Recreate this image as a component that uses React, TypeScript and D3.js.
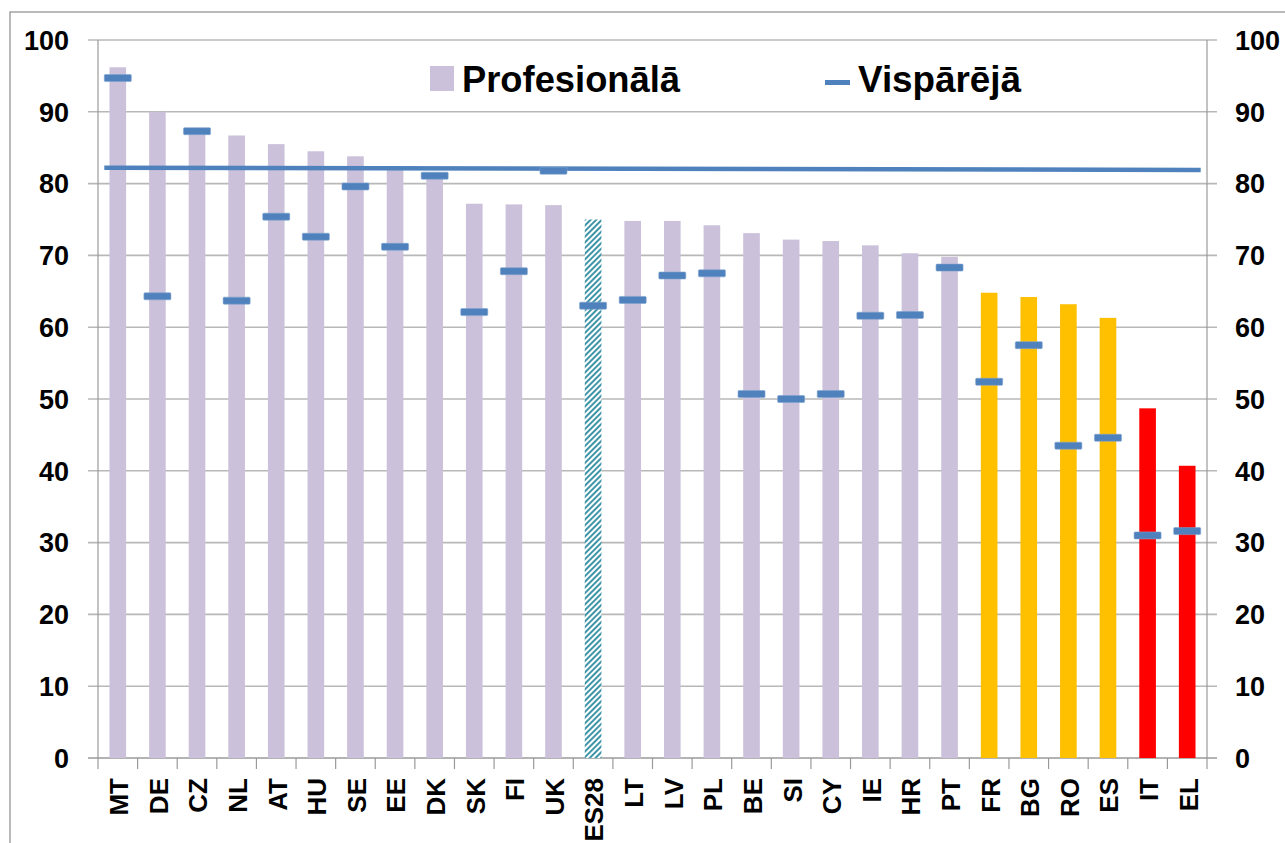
import React, { useEffect, useRef } from 'react';
import * as d3 from 'd3';

// country codes, sorted by the vocational share
const countries = [
  'MT', 'DE', 'CZ', 'NL', 'AT', 'HU', 'SE', 'EE', 'DK', 'SK', 'FI', 'UK', 'ES28', 'LT',
  'LV', 'PL', 'BE', 'SI', 'CY', 'IE', 'HR', 'PT', 'FR', 'BG', 'RO', 'ES', 'IT', 'EL'
];
// Profesionālā (bars)
const profValues = [
  96.2, 90.0, 87.5, 86.7, 85.5, 84.5, 83.8, 82.2, 80.8, 77.2, 77.1, 77.0, 75.0, 74.8,
  74.8, 74.2, 73.1, 72.2, 72.0, 71.4, 70.3, 69.8, 64.8, 64.2, 63.2, 61.3, 48.7, 40.7
];
// Vispārējā (dash markers)
const genValues = [
  94.7, 64.3, 87.3, 63.7, 75.4, 72.6, 79.6, 71.2, 81.1, 62.1, 67.8, 81.8, 63.0, 63.8,
  67.2, 67.5, 50.7, 50.0, 50.7, 61.6, 61.7, 68.3, 52.4, 57.5, 43.5, 44.6, 31.0, 31.6
];
// ES28 level line (first and last category)
const avgLine = [82.2, 81.9];
const orangeGroup = ['FR', 'BG', 'RO', 'ES'];
const redGroup = ['IT', 'EL'];
const yTicks = [0, 10, 20, 30, 40, 50, 60, 70, 80, 90, 100];
const legendLabels = ['Profesionālā', 'Vispārējā'];

const W = 1285;
const H = 843;
const left = 98;
const right = 1207;
const top = 40;
const bottom = 758;

const font = '"Liberation Sans", Arial, sans-serif';

function App() {
  const ref = useRef<SVGSVGElement>(null);

  useEffect(() => {
    const svg = d3.select(ref.current);
    svg.selectAll('*').remove();

    const x = d3.scaleBand().domain(countries).range([left, right]).paddingInner(0).paddingOuter(0);
    const y = d3.scaleLinear().domain([0, 100]).range([bottom, top]);
    const cx = (c: string) => (x(c) as number) + x.bandwidth() / 2;

    // hatch for ES28
    const defs = svg.append('defs');
    const pat = defs.append('pattern')
      .attr('id', 'hatch')
      .attr('patternUnits', 'userSpaceOnUse')
      .attr('width', 4)
      .attr('height', 4)
      .attr('patternTransform', 'rotate(45)');
    pat.append('rect').attr('width', 4).attr('height', 4).attr('fill', '#ffffff');
    pat.append('rect').attr('width', 2).attr('height', 4).attr('fill', '#3f95a8');

    // outer border
    svg.append('rect')
      .attr('x', 10).attr('y', 12).attr('width', W + 20).attr('height', H + 20)
      .attr('fill', 'none').attr('stroke', '#8c8c8c').attr('stroke-width', 1.2);

    // gridlines (with outside tick marks on both sides)
    svg.append('g').selectAll('line').data(yTicks).enter().append('line')
      .attr('x1', left - 10).attr('x2', right + 10)
      .attr('y1', d => y(d)).attr('y2', d => y(d))
      .attr('stroke', d => (d === 0 ? '#9a9a9a' : '#b8b8b8'))
      .attr('stroke-width', 1.6);

    // axis lines
    svg.append('line').attr('x1', left).attr('x2', left).attr('y1', top).attr('y2', bottom)
      .attr('stroke', '#9a9a9a').attr('stroke-width', 1.2);
    svg.append('line').attr('x1', right).attr('x2', right).attr('y1', top).attr('y2', bottom)
      .attr('stroke', '#9a9a9a').attr('stroke-width', 1.2);

    // category tick marks
    const bounds = countries.map(c => x(c) as number).concat([right]);
    svg.append('g').selectAll('line').data(bounds).enter().append('line')
      .attr('x1', d => d).attr('x2', d => d)
      .attr('y1', bottom).attr('y2', bottom + 11)
      .attr('stroke', '#9a9a9a').attr('stroke-width', 1.2);

    // y labels left and right
    svg.append('g').selectAll('text').data(yTicks).enter().append('text')
      .attr('x', 69).attr('y', d => y(d)).attr('dy', '0.36em')
      .attr('text-anchor', 'end')
      .style('font-family', font).style('font-weight', 'bold').style('font-size', '27px')
      .text(d => d);
    svg.append('g').selectAll('text').data(yTicks).enter().append('text')
      .attr('x', 1235).attr('y', d => y(d)).attr('dy', '0.36em')
      .attr('text-anchor', 'start')
      .style('font-family', font).style('font-weight', 'bold').style('font-size', '27px')
      .text(d => d);

    // bars
    const barW = x.bandwidth() * 0.42;
    const colorOf = (c: string) => {
      if (c === 'ES28') return 'url(#hatch)';
      if (orangeGroup.includes(c)) return '#ffc000';
      if (redGroup.includes(c)) return '#ff0000';
      return '#ccc1da';
    };
    svg.append('g').selectAll('rect').data(countries).enter().append('rect')
      .attr('x', d => cx(d) - barW / 2)
      .attr('width', barW)
      .attr('y', (d, i) => y(profValues[i]))
      .attr('height', (d, i) => bottom - y(profValues[i]))
      .attr('fill', d => colorOf(d));

    // ES28 level line
    const dashW = 27;
    svg.append('line')
      .attr('x1', cx(countries[0]) - dashW / 2)
      .attr('x2', cx(countries[countries.length - 1]) + dashW / 2)
      .attr('y1', y(avgLine[0])).attr('y2', y(avgLine[1]))
      .attr('stroke', '#4f81bd').attr('stroke-width', 4.5);

    // Vispārējā dash markers
    svg.append('g').selectAll('rect').data(countries).enter().append('rect')
      .attr('x', d => cx(d) - dashW / 2)
      .attr('width', dashW)
      .attr('y', (d, i) => y(genValues[i]) - 3.5)
      .attr('height', 7)
      .attr('rx', 1)
      .attr('fill', '#4f81bd')
      .attr('stroke', '#7fa3d0').attr('stroke-width', 0.6);

    // x labels, rotated
    svg.append('g').selectAll('text').data(countries).enter().append('text')
      .attr('transform', d => `translate(${cx(d) + 1}, 778) rotate(-90)`)
      .attr('text-anchor', 'end')
      .attr('dy', '0.36em')
      .style('font-family', font).style('font-weight', 'bold').style('font-size', '26px')
      .text(d => d);

    // legend
    const lg = svg.append('g');
    lg.append('rect').attr('x', 430).attr('y', 66).attr('width', 24).attr('height', 25).attr('fill', '#ccc1da');
    lg.append('text').attr('x', 462).attr('y', 92)
      .style('font-family', font).style('font-weight', 'bold').style('font-size', '36px')
      .attr('textLength', 218).attr('lengthAdjust', 'spacingAndGlyphs')
      .text(legendLabels[0]);
    lg.append('rect').attr('x', 825).attr('y', 80).attr('width', 25).attr('height', 5).attr('fill', '#4f81bd');
    lg.append('text').attr('x', 858).attr('y', 92)
      .style('font-family', font).style('font-weight', 'bold').style('font-size', '36px')
      .attr('textLength', 163).attr('lengthAdjust', 'spacingAndGlyphs')
      .text(legendLabels[1]);
  }, []);

  return (
    <svg
      ref={ref}
      width={W}
      height={H}
      style={{ position: 'absolute', left: 0, top: 0, background: '#fff' }}
    />
  );
}

export default App;
